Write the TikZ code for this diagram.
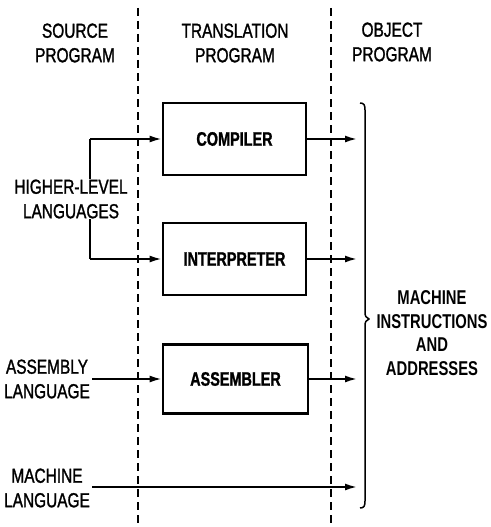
\documentclass[tikz,border=0pt]{standalone}
\usepackage{fontspec}
\setmainfont{Liberation Sans}[FakeStretch=0.75]
\newfontfamily\medfont{Liberation Sans}[FakeStretch=0.76,FakeBold=1.3]
\newfontfamily\heavyfont{Liberation Sans Bold}[FakeStretch=0.74,FakeBold=1.2]
\newfontfamily\semibfont{Liberation Sans Bold}[FakeStretch=0.74]
\usetikzlibrary{arrows.meta}
\begin{document}
\begin{tikzpicture}[x=1pt,y=-1pt,
  lbl/.style={align=center,font=\medfont\fontsize{20.3}{24.5}\selectfont,inner sep=0pt},
  boxlbl/.style={draw,line width=2.8pt,minimum width=143pt,minimum height=72pt,font=\heavyfont\fontsize{19.5}{24}\selectfont,inner sep=0pt},
  divider/.style={line width=1.5pt,dash pattern=on 8pt off 5pt},
  flow/.style={line width=1.8pt,-{Latex[length=12pt,width=7pt]}},
  plain/.style={line width=1.8pt}]
\useasboundingbox (0,0) rectangle (490,527);
% dividers
\coordinate (d1t) at (138,8); \coordinate (d1b) at (138,527);
\coordinate (d2t) at (331,8); \coordinate (d2b) at (331,527);
\draw[divider] (d1t) -- (d1b);
\draw[divider] (d2t) -- (d2b);
% headers
\node[lbl] (hs) at (75,43) {SOURCE\\PROGRAM};
\node[lbl] (ht) at (235,43) {TRANSLATION\\PROGRAM};
\node[lbl] (ho) at (392,42) {OBJECT\\PROGRAM};
% boxes
\node[boxlbl] (comp) at (234.5,139) {COMPILER};
\node[boxlbl] (interp) at (234.5,259) {INTERPRETER};
\node[boxlbl,minimum width=145pt,minimum height=69pt] (asm) at (235.5,379) {ASSEMBLER};
% left labels
\node[lbl] (hl) at (71,199) {HIGHER-LEVEL\\LANGUAGES};
\node[lbl] (al) at (47,379) {ASSEMBLY\\LANGUAGE};
\node[lbl] (ml) at (47,488) {MACHINE\\LANGUAGE};
\node[lbl,font=\semibfont\fontsize{20}{23.5}\selectfont] (mi) at (432,333) {MACHINE\\INSTRUCTIONS\\AND\\ADDRESSES};
% connectors
\coordinate (hlTop) at (90,139);
\coordinate (hlBot) at (90,259);
\draw[plain] (hl.north -| hlTop) -- (hlTop);
\draw[flow] (hlTop) -- (comp.west);
\draw[plain] (hl.south -| hlBot) -- (hlBot);
\draw[flow] (hlBot) -- (interp.west);
\coordinate (aStart) at (92,379);
\draw[flow] (aStart) -- (asm.west);
\coordinate (o1) at (357,139);
\coordinate (o2) at (357,259);
\coordinate (o3) at (357,379);
\coordinate (o4) at (357,487);
\coordinate (mStart) at (92,487);
\draw[flow] (comp.east) -- (o1);
\draw[flow] (interp.east) -- (o2);
\draw[flow] (asm.east) -- (o3);
\draw[flow] (mStart) -- (o4);
% brace
\draw[line width=1.5pt,line join=round]
  (360,103) .. controls (364,103) and (365,105) .. (365,110)
  -- (365,312) .. controls (365,316) and (366,318) .. (369,319)
  .. controls (366,320) and (365,322) .. (365,326)
  -- (365,501) .. controls (365,506) and (364,508) .. (360,508);
\end{tikzpicture}
\end{document}
